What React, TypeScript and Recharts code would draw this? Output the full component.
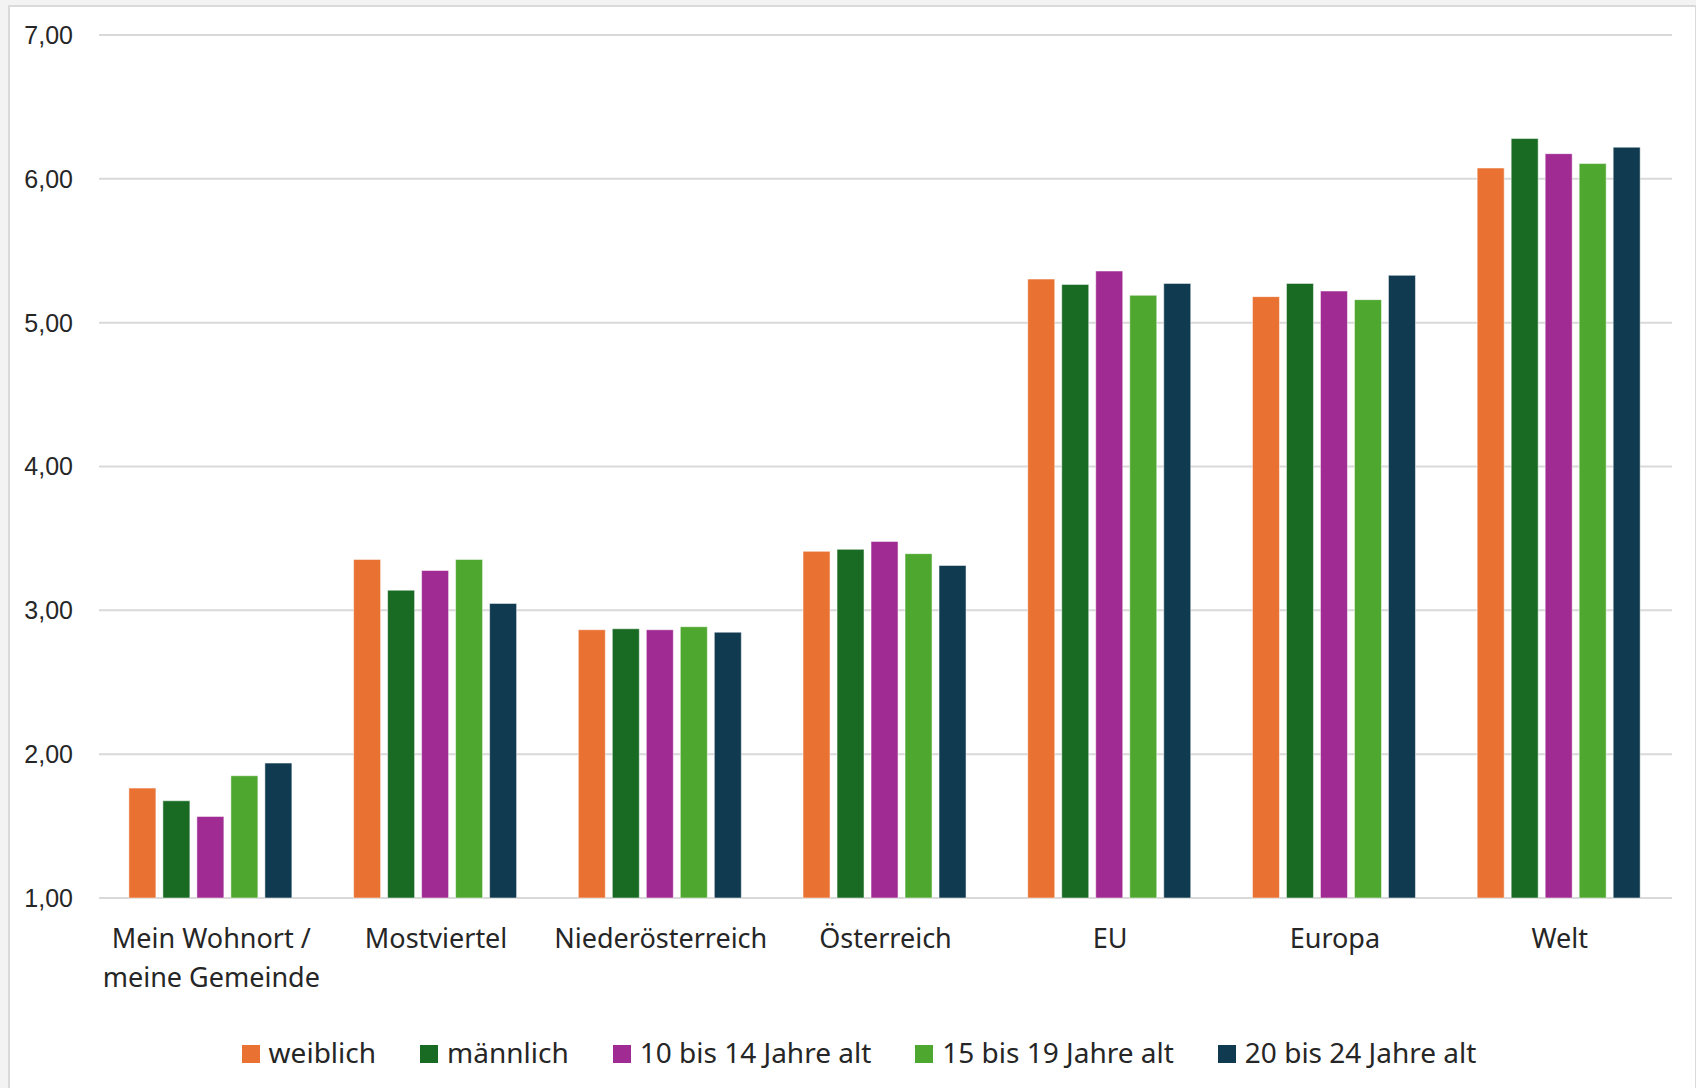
import { Bar, BarChart, CartesianGrid, XAxis, YAxis } from "recharts";

const categories = [
  "Mein Wohnort / meine Gemeinde",
  "Mostviertel",
  "Niederösterreich",
  "Österreich",
  "EU",
  "Europa",
  "Welt",
];

const weiblich = [1.764, 3.354, 2.865, 3.41, 5.303, 5.181, 6.075];
const maennlich = [1.676, 3.14, 2.872, 3.424, 5.266, 5.273, 6.28];
const alter10bis14 = [1.567, 3.277, 2.865, 3.479, 5.359, 5.22, 6.175];
const alter15bis19 = [1.85, 3.354, 2.886, 3.394, 5.19, 5.16, 6.106];
const alter20bis24 = [1.938, 3.048, 2.848, 3.312, 5.273, 5.329, 6.22];

const yTicks = [1, 2, 3, 4, 5, 6, 7];

const series = [
  { key: "weiblich", name: "weiblich", color: "#E97132", values: weiblich },
  { key: "maennlich", name: "männlich", color: "#196B24", values: maennlich },
  { key: "a10", name: "10 bis 14 Jahre alt", color: "#A02B93", values: alter10bis14 },
  { key: "a15", name: "15 bis 19 Jahre alt", color: "#4EA72E", values: alter15bis19 },
  { key: "a20", name: "20 bis 24 Jahre alt", color: "#0F3A4F", values: alter20bis24 },
];

const chartData = categories.map((category, i) => {
  const row: Record<string, string | number> = { category };
  series.forEach((s) => {
    row[s.key] = s.values[i];
  });
  return row;
});

const labelFont = "'Noto Sans', 'Open Sans', sans-serif";
const textColor = "#262626";

function CategoryTick({ x, y, payload }: { x: number; y: number; payload: { value: string } }) {
  const label = String(payload.value);
  const cut = label.indexOf(" / ");
  const lines = cut >= 0 ? [label.slice(0, cut + 2), label.slice(cut + 3)] : [label];
  return (
    <text x={x} y={y} textAnchor="middle" fontFamily={labelFont} fontSize={27} fill={textColor}>
      {lines.map((line, i) => (
        <tspan key={i} x={x} dy={i === 0 ? 44 : 39}>
          {line}
        </tspan>
      ))}
    </text>
  );
}

export default function App() {
  return (
    <div
      style={{
        position: "fixed",
        left: 0,
        top: 0,
        width: 1696,
        height: 1088,
        background: "#f3f3f3",
        overflow: "hidden",
      }}
    >
      <div
        style={{
          position: "absolute",
          left: 8,
          top: 5,
          width: 1688,
          height: 1083,
          boxSizing: "border-box",
          background: "#ffffff",
          borderLeft: "2px solid #dadada",
          borderTop: "2px solid #dadada",
          borderRight: "1px solid #dadada",
        }}
      />
      <div style={{ position: "absolute", left: 0, top: 0 }}>
        <BarChart
          width={1696}
          height={1088}
          data={chartData}
          margin={{ top: 35, right: 24, left: 0, bottom: 130 }}
          barCategoryGap="13.3%"
          barGap={7}
        >
          <CartesianGrid vertical={false} stroke="#d9d9d9" strokeWidth={2} />
          <XAxis
            dataKey="category"
            axisLine={false}
            tickLine={false}
            tickMargin={0}
            height={60}
            interval={0}
            tick={CategoryTick}
          />
          <YAxis
            width={99}
            domain={[1, 7]}
            ticks={yTicks}
            axisLine={false}
            tickLine={false}
            tickMargin={20}
            tickFormatter={(v: number) => v.toFixed(2).replace(".", ",")}
            tick={{ fontFamily: "'Liberation Sans', Arial, sans-serif", fontSize: 25, fill: textColor }}
          />
          {series.map((s) => (
            <Bar
              key={s.key}
              dataKey={s.key}
              name={s.name}
              fill={s.color}
              stroke="#ffffff"
              strokeOpacity={0.5}
              strokeWidth={1}
              isAnimationActive={false}
            />
          ))}
        </BarChart>
      </div>
      <div
        style={{
          position: "absolute",
          left: 22,
          top: 1033,
          width: 1674,
          height: 38,
          display: "flex",
          justifyContent: "center",
          alignItems: "center",
          fontFamily: labelFont,
          fontSize: 28,
          lineHeight: "38px",
          color: textColor,
          gap: 44,
        }}
      >
        {series.map((s) => (
          <div key={s.key} style={{ display: "flex", alignItems: "center", gap: 9 }}>
            <span
              style={{ display: "inline-block", width: 18, height: 18, marginTop: 4, background: s.color }}
            />
            <span style={{ whiteSpace: "nowrap" }}>{s.name}</span>
          </div>
        ))}
      </div>
    </div>
  );
}
